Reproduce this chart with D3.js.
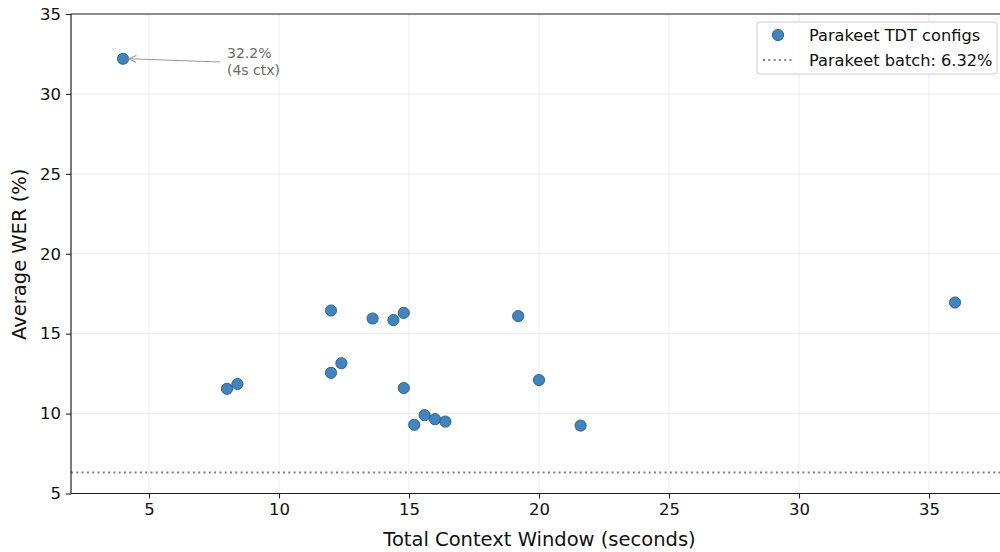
<!DOCTYPE html>
<html><head><meta charset="utf-8">
<script src="https://cdn.jsdelivr.net/npm/d3@7"></script>
<style>body{margin:0;background:#fff}svg{display:block;font-family:"DejaVu Sans",sans-serif}</style>
</head><body><svg id="c" width="1000" height="552"></svg>
<script>
const contextSec = [4, 8, 8.4, 12, 12, 12.4, 13.6, 14.4, 14.8, 14.8, 15.2, 15.6, 16.0, 16.4, 19.2, 20, 21.6, 36];
const werPct = [32.2, 11.55, 11.85, 16.45, 12.55, 13.15, 15.95, 15.85, 16.3, 11.6, 9.3, 9.9, 9.65, 9.5, 16.1, 12.1, 9.25, 16.95];
const batchWer = 6.32;
const xTicks = [5, 10, 15, 20, 25, 30, 35];
const yTicks = [5, 10, 15, 20, 25, 30, 35];
const legendLabels = ["Parakeet TDT configs", "Parakeet batch: 6.32%"];
const annotLines = ["32.2%", "(4s ctx)"];

const svg = d3.select("#c");
const L = 71, R = 1007, T = 14, B = 493.5;
const x = d3.scaleLinear().domain([2, 38]).range([L, R]);
const y = d3.scaleLinear().domain([5, 35]).range([B, T]);

// grid
svg.append("g").selectAll("line").data(xTicks).join("line")
  .attr("x1", d => x(d)).attr("x2", d => x(d)).attr("y1", T).attr("y2", B)
  .attr("stroke", "#b0b0b0").attr("stroke-opacity", 0.3).attr("stroke-width", 0.8);
svg.append("g").selectAll("line").data(yTicks).join("line")
  .attr("x1", L).attr("x2", R).attr("y1", d => y(d)).attr("y2", d => y(d))
  .attr("stroke", "#b0b0b0").attr("stroke-opacity", 0.3).attr("stroke-width", 0.8);

// baseline
svg.append("line").attr("x1", L).attr("x2", R).attr("y1", y(batchWer)).attr("y2", y(batchWer))
  .attr("stroke", "#808080").attr("stroke-width", 2).attr("stroke-dasharray", "2,3.3");

// axes
const xa = svg.append("g").attr("transform", `translate(0,${B})`)
  .call(d3.axisBottom(x).tickValues(xTicks).tickSize(5).tickPadding(5).tickFormat(d3.format("d")));
const ya = svg.append("g").attr("transform", `translate(${L},0)`)
  .call(d3.axisLeft(y).tickValues(yTicks).tickSize(5).tickPadding(5).tickFormat(d3.format("d")));
[xa, ya].forEach(a => {
  a.select(".domain").remove();
  a.selectAll("line").attr("stroke", "#222").attr("stroke-width", 1.1);
  a.selectAll("text").attr("font-size", 16.5).attr("fill", "#111").attr("font-family", "DejaVu Sans");
});
// spines
svg.append("line").attr("x1", L).attr("x2", L).attr("y1", T).attr("y2", B).attr("stroke", "#222").attr("stroke-width", 1.2);
svg.append("line").attr("x1", L).attr("x2", R).attr("y1", B).attr("y2", B).attr("stroke", "#222").attr("stroke-width", 1.2);
svg.append("line").attr("x1", L).attr("x2", R).attr("y1", T).attr("y2", T).attr("stroke", "#222").attr("stroke-width", 1.2);

// points
svg.append("g").selectAll("circle").data(contextSec.map((c, i) => [c, werPct[i]])).join("circle")
  .attr("cx", d => x(d[0])).attr("cy", d => y(d[1])).attr("r", 5.6)
  .attr("fill", "#3d86c1").attr("stroke", "#2a5a85").attr("stroke-width", 0.9);

// annotation
const ax0 = 220, ay0 = 62, ax1 = x(4) + 6, ay1 = y(32.2);
svg.append("line").attr("x1", ax0).attr("y1", ay0).attr("x2", ax1).attr("y2", ay1)
  .attr("stroke", "#999").attr("stroke-width", 1.1);
const ang = Math.atan2(ay0 - ay1, ax0 - ax1);
const hl = 8, hw = 0.45;
svg.append("path")
  .attr("d", `M${ax1 + hl * Math.cos(ang - hw)},${ay1 + hl * Math.sin(ang - hw)} L${ax1},${ay1} L${ax1 + hl * Math.cos(ang + hw)},${ay1 + hl * Math.sin(ang + hw)}`)
  .attr("fill", "none").attr("stroke", "#999").attr("stroke-width", 1.1);
svg.append("text").attr("x", 227).attr("y", 58).attr("font-size", 14).attr("fill", "#6b6b6b")
  .selectAll("tspan").data(annotLines).join("tspan").attr("x", 227).attr("dy", (d, i) => i ? 16.5 : 0).text(d => d);

// axis labels
svg.append("text").attr("x", 539.5).attr("y", 546).attr("text-anchor", "middle")
  .attr("font-size", 19.5).attr("fill", "#111").text("Total Context Window (seconds)");
svg.append("text").attr("transform", `translate(26,${(T + B) / 2 + 0.5}) rotate(-90)`).attr("text-anchor", "middle")
  .attr("font-size", 19.5).attr("fill", "#111").text("Average WER (%)");

// legend
const lg = svg.append("g");
lg.append("rect").attr("x", 757).attr("y", 22).attr("width", 240).attr("height", 52).attr("rx", 3)
  .attr("fill", "#fff").attr("fill-opacity", 0.8).attr("stroke", "#ccc");
lg.append("circle").attr("cx", 778).attr("cy", 35).attr("r", 5.6).attr("fill", "#3d86c1").attr("stroke", "#2a5a85").attr("stroke-width", 0.9);
lg.append("line").attr("x1", 763).attr("x2", 794).attr("y1", 60).attr("y2", 60)
  .attr("stroke", "#808080").attr("stroke-width", 2).attr("stroke-dasharray", "2,3.3");
lg.selectAll("text.l").data(legendLabels).join("text").attr("class", "l")
  .attr("x", 809).attr("y", (d, i) => 41 + i * 25).attr("font-size", 16.2).attr("fill", "#111").text(d => d);
</script></body></html>
